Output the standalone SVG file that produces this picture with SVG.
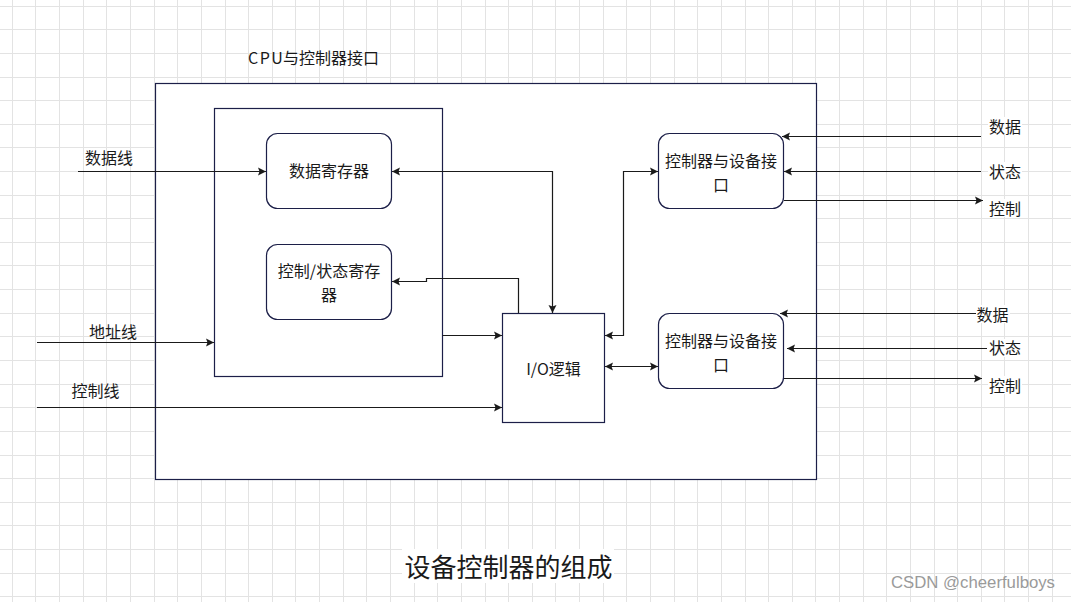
<svg xmlns="http://www.w3.org/2000/svg" width="1071" height="602" viewBox="0 0 1071 602">
<style>
.grid{stroke:#e3e3e3;stroke-width:1;fill:none}
.box{fill:#ffffff;stroke:#1c1f48;stroke-width:1.2}
.conn{fill:none;stroke:#1a1a1a;stroke-width:1.2}
.t{font-family:"Noto Sans CJK SC","Liberation Sans",sans-serif;font-size:16px;fill:#1a1a1a;dominant-baseline:central}
.m{text-anchor:middle}
.bg{fill:#ffffff}
</style>
<defs>
<marker id="ar" markerUnits="userSpaceOnUse" markerWidth="9" markerHeight="9" viewBox="0 0 9 9" refX="8.5" refY="4.5" orient="auto-start-reverse">
<path d="M0.5,0.5 L8.5,4.5 L0.5,8.5 L2,4.5 Z" fill="#1a1a1a"/>
</marker>
</defs>
<rect x="0" y="0" width="1071" height="602" fill="#ffffff"/>
<g id="grid">
<path class="grid" d="M12.5,0V602M35.5,0V602M59.5,0V602M83.5,0V602M106.5,0V602M130.5,0V602M154.5,0V602M177.5,0V602M201.5,0V602M225.5,0V602M248.5,0V602M272.5,0V602M295.5,0V602M319.5,0V602M343.5,0V602M366.5,0V602M390.5,0V602M414.5,0V602M437.5,0V602M461.5,0V602M485.5,0V602M508.5,0V602M532.5,0V602M555.5,0V602M579.5,0V602M603.5,0V602M626.5,0V602M650.5,0V602M674.5,0V602M697.5,0V602M721.5,0V602M745.5,0V602M768.5,0V602M792.5,0V602M815.5,0V602M839.5,0V602M863.5,0V602M886.5,0V602M910.5,0V602M934.5,0V602M957.5,0V602M981.5,0V602M1004.5,0V602M1028.5,0V602M1052.5,0V602"/>
<path class="grid" d="M0,6.5H1071M0,29.5H1071M0,53.5H1071M0,77.5H1071M0,100.5H1071M0,124.5H1071M0,147.5H1071M0,171.5H1071M0,195.5H1071M0,218.5H1071M0,242.5H1071M0,265.5H1071M0,289.5H1071M0,313.5H1071M0,336.5H1071M0,360.5H1071M0,384.5H1071M0,407.5H1071M0,431.5H1071M0,455.5H1071M0,478.5H1071M0,502.5H1071M0,525.5H1071M0,549.5H1071M0,573.5H1071M0,596.5H1071"/>
</g>
<g id="outer">
<rect class="box" x="155.5" y="83.5" width="661" height="396"/>
</g>
<g id="inner">
<rect class="box" x="214.5" y="108.5" width="228" height="268"/>
</g>
<g id="cpu-label">
<text class="t" x="248" y="57"><tspan letter-spacing="1.5">CP</tspan>U与控制器接口</text>
</g>
<g id="data-reg">
<rect class="box" x="266.5" y="133.5" width="125" height="75" rx="11" ry="11"/>
<text class="t m" x="329" y="170">数据寄存器</text>
</g>
<g id="ctrl-reg">
<rect class="box" x="266.5" y="244.5" width="125" height="75" rx="11" ry="11"/>
<text class="t m" x="329" y="270">控制/状态寄存</text>
<text class="t m" x="329" y="293.5">器</text>
</g>
<g id="io-logic">
<rect class="box" x="502.5" y="313.5" width="102" height="109"/>
<text class="t m" x="553.5" y="368">I/O逻辑</text>
</g>
<g id="dev1">
<rect class="box" x="658.5" y="133.5" width="125" height="75" rx="11" ry="11"/>
<text class="t m" x="721" y="160">控制器与设备接</text>
<text class="t m" x="721" y="183.5">口</text>
</g>
<g id="dev2">
<rect class="box" x="658.5" y="313.5" width="125" height="75" rx="11" ry="11"/>
<text class="t m" x="721" y="340">控制器与设备接</text>
<text class="t m" x="721" y="363.5">口</text>
</g>
<g id="connectors">
<path class="conn" d="M78,171.5 H266" marker-end="url(#ar)"/>
<path class="conn" d="M392,171.5 H552.5 V313" marker-start="url(#ar)" marker-end="url(#ar)"/>
<path class="conn" d="M518.5,313 V278.5 H426.5 V281.5 H392" marker-end="url(#ar)"/>
<path class="conn" d="M442.5,335.5 H502" marker-end="url(#ar)"/>
<path class="conn" d="M37,342.5 H214" marker-end="url(#ar)"/>
<path class="conn" d="M37,407.5 H502" marker-end="url(#ar)"/>
<path class="conn" d="M605,335.5 H623.5 V171.5 H658" marker-start="url(#ar)" marker-end="url(#ar)"/>
<path class="conn" d="M605,366.5 H658" marker-start="url(#ar)" marker-end="url(#ar)"/>
<path class="conn" d="M981,136.5 H782" marker-end="url(#ar)"/>
<path class="conn" d="M981,171.5 H784" marker-end="url(#ar)"/>
<path class="conn" d="M784,200.5 H983" marker-end="url(#ar)"/>
<path class="conn" d="M977,313.5 H780" marker-end="url(#ar)"/>
<path class="conn" d="M987,348.5 H787" marker-end="url(#ar)"/>
<path class="conn" d="M784,378.5 H982" marker-end="url(#ar)"/>
</g>
<g id="labels">
<text class="t" x="85" y="156.5">数据线</text>
<text class="t" x="89" y="330.5">地址线</text>
<text class="t" x="71.5" y="390">控制线</text>
<rect class="bg" x="988" y="117" width="34" height="18"/>
<text class="t" x="989" y="125.5">数据</text>
<rect class="bg" x="988" y="162" width="34" height="18"/>
<text class="t" x="989" y="170.5">状态</text>
<rect class="bg" x="988" y="199" width="34" height="18"/>
<text class="t" x="989" y="207.5">控制</text>
<rect class="bg" x="976" y="305" width="34" height="18"/>
<text class="t" x="976.5" y="313.5">数据</text>
<rect class="bg" x="988" y="339" width="34" height="18"/>
<text class="t" x="989" y="347">状态</text>
<rect class="bg" x="988" y="376" width="34" height="18"/>
<text class="t" x="989" y="384.5">控制</text>
</g>
<g id="title">
<rect class="bg" x="402" y="549" width="212" height="34"/>
<text class="t m" x="508.5" y="565" style="font-size:26px">设备控制器的组成</text>
</g>
<g id="watermark">
<text x="891" y="582.5" style="font-family:'Liberation Sans',sans-serif;font-size:16px;fill:#9a9a9a;dominant-baseline:central" textLength="164" lengthAdjust="spacingAndGlyphs">CSDN @cheerfulboys</text>
</g>
</svg>
